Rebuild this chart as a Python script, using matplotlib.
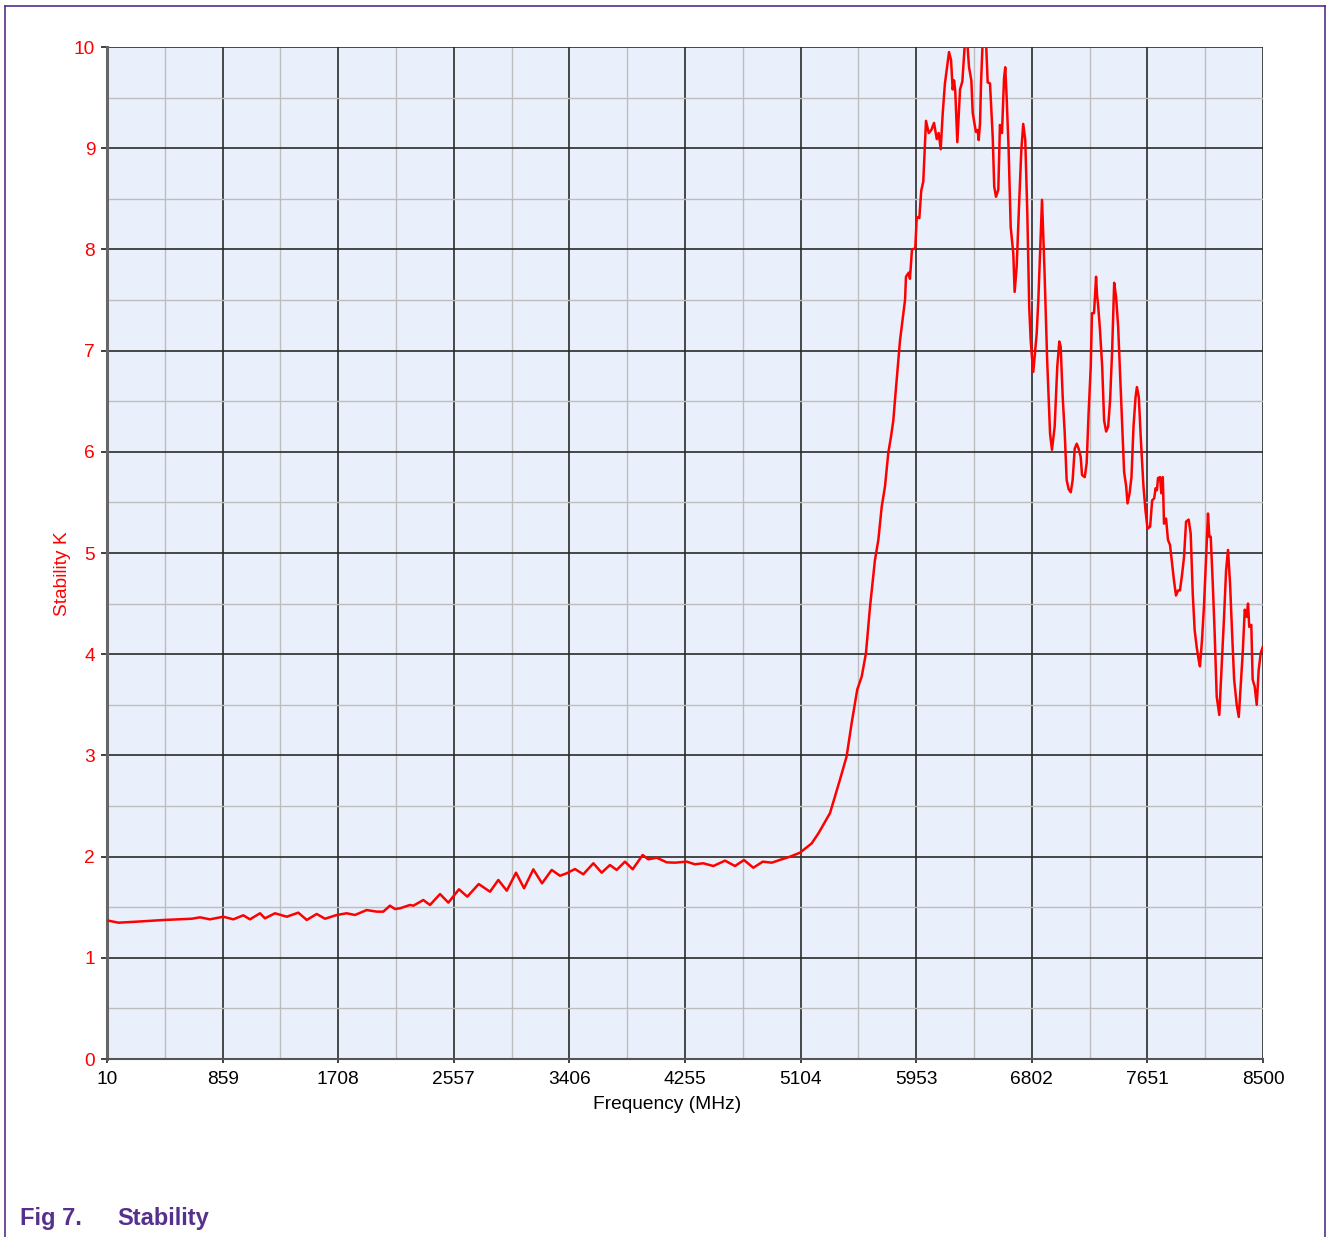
import numpy as np
import matplotlib.pyplot as plt
from matplotlib.lines import Line2D
from matplotlib.ticker import MultipleLocator

plt.rcParams['font.family'] = ['Liberation Sans', 'DejaVu Sans']

# frequency (MHz) and stability factor K
freq = [20, 94, 228, 431, 633, 693, 766, 864, 938, 1011, 1060, 1134, 1170, 1244, 1330,
        1415, 1477, 1550, 1611, 1697, 1770, 1831, 1917, 1991, 2039, 2088, 2125, 2162,
        2235, 2260, 2333, 2382, 2456, 2517, 2595, 2656, 2740, 2823, 2884, 2946, 3014,
        3073, 3141, 3205, 3276, 3337, 3386, 3447, 3508, 3582, 3643, 3704, 3753, 3814,
        3871, 3944, 3985, 4047, 4121, 4182, 4268, 4328, 4389, 4463, 4549, 4622, 4688,
        4757, 4826, 4892, 4965, 5026, 5100, 5185, 5235, 5320, 5393, 5442, 5479, 5520,
        5553, 5584, 5614, 5650, 5675, 5700, 5724, 5748, 5768, 5785, 5797, 5834, 5871,
        5878, 5898, 5907, 5922, 5946, 5957, 5976, 5990, 6005, 6025, 6045, 6064, 6084,
        6104, 6118, 6133, 6148, 6164, 6194, 6209, 6221, 6231, 6240, 6255, 6275, 6292,
        6311, 6328, 6341, 6358, 6368, 6380, 6392, 6405, 6412, 6422, 6429, 6441, 6466,
        6478, 6495, 6515, 6526, 6539, 6556, 6568, 6583, 6598, 6607, 6618, 6632, 6647,
        6666, 6676, 6691, 6710, 6725, 6739, 6754, 6769, 6783, 6794, 6803, 6813, 6838,
        6850, 6877, 6895, 6915, 6936, 6950, 6970, 6989, 7004, 7014, 7029, 7044, 7058,
        7073, 7088, 7102, 7117, 7132, 7146, 7161, 7171, 7191, 7205, 7220, 7235, 7244,
        7259, 7274, 7281, 7289, 7303, 7319, 7333, 7348, 7363, 7377, 7392, 7407, 7421,
        7436, 7461, 7480, 7495, 7505, 7520, 7534, 7549, 7564, 7574, 7588, 7603, 7622,
        7637, 7652, 7671, 7686, 7701, 7711, 7721, 7729, 7744, 7753, 7764, 7773, 7788,
        7802, 7817, 7832, 7846, 7861, 7876, 7890, 7905, 7920, 7935, 7954, 7969, 7984,
        7998, 8013, 8028, 8037, 8052, 8067, 8081, 8096, 8106, 8116, 8131, 8145, 8160,
        8179, 8194, 8214, 8229, 8243, 8258, 8273, 8288, 8307, 8322, 8336, 8351, 8366,
        8380, 8390, 8399, 8414, 8424, 8439, 8454, 8468, 8483, 8498]
stab_k = [1.367, 1.347, 1.357, 1.374, 1.386, 1.400, 1.380, 1.406, 1.380, 1.420, 1.380,
          1.440, 1.390, 1.440, 1.406, 1.446, 1.374, 1.433, 1.386, 1.423, 1.440, 1.423,
          1.472, 1.456, 1.456, 1.515, 1.482, 1.489, 1.522, 1.515, 1.571, 1.522, 1.630,
          1.545, 1.677, 1.604, 1.729, 1.653, 1.769, 1.663, 1.841, 1.687, 1.874, 1.736,
          1.868, 1.811, 1.835, 1.877, 1.825, 1.934, 1.841, 1.917, 1.868, 1.950, 1.875,
          2.016, 1.973, 1.989, 1.943, 1.940, 1.950, 1.924, 1.934, 1.907, 1.960, 1.907,
          1.966, 1.890, 1.950, 1.940, 1.973, 1.999, 2.039, 2.13, 2.23, 2.43, 2.76, 2.99,
          3.32, 3.65, 3.78, 4.01, 4.47, 4.93, 5.13, 5.46, 5.66, 5.99, 6.15, 6.31, 6.51,
          7.1, 7.5, 7.73, 7.77, 7.71, 8.0, 8.01, 8.32, 8.31, 8.58, 8.67, 9.27, 9.15,
          9.18, 9.25, 9.09, 9.15, 8.99, 9.35, 9.64, 9.95, 9.87, 9.58, 9.67, 9.56, 9.06,
          9.58, 9.66, 10.05, 10.05, 9.8, 9.67, 9.35, 9.25, 9.16, 9.18, 9.08, 9.25, 9.64,
          10.05, 10.05, 9.65, 9.64, 9.11, 8.62, 8.52, 8.59, 9.23, 9.15, 9.69, 9.8, 9.48,
          8.98, 8.22, 7.96, 7.58, 7.83, 8.49, 8.98, 9.24, 9.08, 8.36, 7.43, 7.1, 6.94,
          6.79, 7.17, 7.5, 8.49, 7.8, 6.9, 6.18, 6.02, 6.25, 6.84, 7.09, 7.04, 6.54,
          6.18, 5.72, 5.63, 5.60, 5.72, 6.03, 6.08, 6.03, 5.95, 5.77, 5.75, 5.89, 6.41,
          6.84, 7.37, 7.37, 7.73, 7.55, 7.45, 7.2, 6.84, 6.31, 6.2, 6.25, 6.51, 7.0,
          7.67, 7.53, 7.24, 6.41, 5.80, 5.66, 5.49, 5.59, 5.75, 6.25, 6.54, 6.64, 6.54,
          6.12, 5.66, 5.42, 5.24, 5.26, 5.52, 5.54, 5.64, 5.62, 5.74, 5.75, 5.59, 5.75,
          5.29, 5.34, 5.13, 5.08, 4.90, 4.73, 4.58, 4.63, 4.63, 4.78, 4.96, 5.31, 5.33,
          5.19, 4.60, 4.24, 4.07, 3.94, 3.88, 4.14, 4.49, 4.93, 5.39, 5.16, 5.16, 4.70,
          4.21, 3.58, 3.40, 3.81, 4.37, 4.83, 5.03, 4.70, 4.21, 3.75, 3.50, 3.38, 3.68,
          4.01, 4.44, 4.37, 4.50, 4.27, 4.29, 3.75, 3.68, 3.50, 3.84, 4.01, 4.07]

xticks = [10, 859, 1708, 2557, 3406, 4255, 5104, 5953, 6802, 7651, 8500]

red = '#ff0000'
purple = '#55308d'

fig = plt.figure(figsize=(13.26, 12.37), dpi=100)
ax = fig.add_axes([107/1326, 1 - 1059/1237, 1156/1326, 1012/1237])
ax.set_facecolor('#eaf0fb')

ax.plot(freq, stab_k, color=red, lw=1.8, zorder=5, solid_joinstyle='round')

ax.set_xlim(10, 8500)
ax.set_ylim(0, 10)
ax.set_xticks(xticks)
ax.set_xticklabels([str(t) for t in xticks])
ax.set_xticks([(a + b) / 2 for a, b in zip(xticks[:-1], xticks[1:])], minor=True)
ax.yaxis.set_major_locator(MultipleLocator(1))
ax.yaxis.set_minor_locator(MultipleLocator(0.5))

ax.grid(which='major', color='#2a2a2a', lw=1.2, zorder=1)
ax.grid(which='minor', color='#bdbdbd', lw=1.0, zorder=0)
ax.set_axisbelow(True)

for s in ['top', 'right']:
    ax.spines[s].set_visible(False)
ax.spines['left'].set_color('#666666')
ax.spines['left'].set_linewidth(2.2)
ax.spines['bottom'].set_color('#555555')
ax.spines['bottom'].set_linewidth(1.5)

ax.tick_params(axis='y', which='major', colors='#333333', length=4, width=1.3,
               labelcolor=red, labelsize=13.8, pad=4.5)
ax.tick_params(axis='x', which='major', colors='#333333', length=3, width=1.3,
               labelcolor='black', labelsize=13.8, pad=6)
ax.tick_params(which='minor', length=0)

ax.set_xlabel('Frequency (MHz)', fontsize=13.8, va='center')
ax.set_ylabel('Stability K', fontsize=13.8, color=red, va='center')
ax.xaxis.set_label_coords(0.4844, -0.0445)
ax.yaxis.set_label_coords(-0.0389, 0.480)

# caption
fig.text(20/1326, 1 - 1218/1237, 'Fig 7.', fontsize=17, fontweight='bold',
         color=purple, va='center')
fig.text(117/1326, 1 - 1218/1237, 'Stability', fontsize=17, fontweight='bold',
         color=purple, va='center')

# page frame
fx0, fx1, fy1 = 4.5/1326, 1325/1326, 1 - 5.5/1237
fig.add_artist(Line2D([fx0, fx0], [0, fy1], color=purple, lw=1.2))
fig.add_artist(Line2D([fx0, fx1], [fy1, fy1], color=purple, lw=1.2))
fig.add_artist(Line2D([fx1, fx1], [0, fy1], color=purple, lw=1.2))

fig.savefig('out.png', dpi=100)
